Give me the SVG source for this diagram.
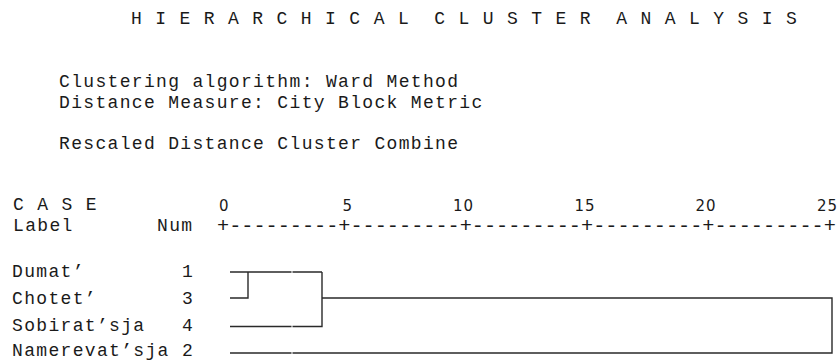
<svg xmlns="http://www.w3.org/2000/svg" width="840" height="360" viewBox="0 0 840 360">
<style>
.m{font-family:"Liberation Mono","Courier New",monospace;font-size:18px;letter-spacing:1.33px;fill:#1a1a1a;white-space:pre}
.d{font-family:"DejaVu Sans","Verdana",sans-serif;font-size:15px;letter-spacing:1px;fill:#1a1a1a;text-anchor:end}
.ax{font-family:"Liberation Mono","Courier New",monospace;font-size:20.23px;fill:#1a1a1a;white-space:pre}
.c{stroke:#2a2a2a;stroke-width:1.4;fill:none}
</style>
<rect width="840" height="360" fill="#ffffff"/>
<g id="header">
<text class="m" x="131" y="24" xml:space="preserve">H I E R A R C H I C A L  C L U S T E R  A N A L Y S I S</text>
<text class="m" x="59" y="87">Clustering algorithm: Ward Method</text>
<text class="m" x="59" y="108">Distance Measure: City Block Metric</text>
<text class="m" x="59" y="149">Rescaled Distance Cluster Combine</text>
</g>
<g id="axis">
<text class="m" x="13" y="210" xml:space="preserve">C A S E</text>
<text class="m" x="13" y="231">Label</text>
<text class="m" x="157" y="231">Num</text>
<text class="d" x="229.5" y="211">0</text>
<text class="d" x="353" y="211">5</text>
<text class="d" x="474" y="211">10</text>
<text class="d" x="595.5" y="211">15</text>
<text class="d" x="716.5" y="211">20</text>
<text class="d" x="838" y="211">25</text>
<text class="ax" x="217" y="232">+---------+---------+---------+---------+---------+</text>
</g>
<g id="leaf-1">
<text class="m" x="12" y="277">Dumat’</text>
<text class="m" x="182" y="277">1</text>
</g>
<g id="leaf-3">
<text class="m" x="12" y="304">Chotet’</text>
<text class="m" x="182" y="304">3</text>
</g>
<g id="leaf-4">
<text class="m" x="12" y="331">Sobirat’sja</text>
<text class="m" x="182" y="331">4</text>
</g>
<g id="leaf-2">
<text class="m" x="12" y="356">Namerevat’sja</text>
<text class="m" x="182" y="356">2</text>
</g>
<g id="connectors">
<path class="c" d="M230 272H291.5M292.5 272H322"/>
<path class="c" d="M230 298H248V272"/>
<path class="c" d="M230 326.5H291.5M292.5 326.5H322V272"/>
<path class="c" d="M322 298H832V353H292.5M291.5 353H230"/>
</g>
</svg>
